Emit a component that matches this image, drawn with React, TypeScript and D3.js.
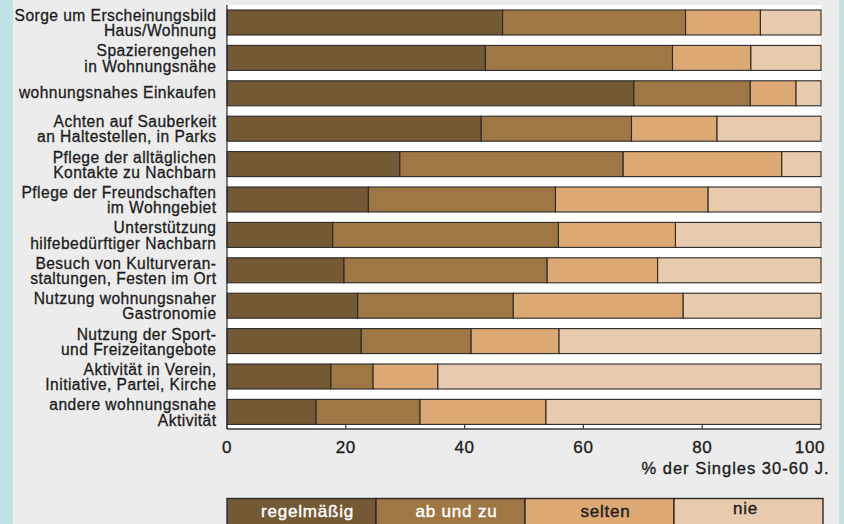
import React from 'react';
import * as d3 from 'd3';

const categories = [
  'Sorge um Erscheinungsbild\nHaus/Wohnung',
  'Spazierengehen\nin Wohnungsnähe',
  'wohnungsnahes Einkaufen',
  'Achten auf Sauberkeit\nan Haltestellen, in Parks',
  'Pflege der alltäglichen\nKontakte zu Nachbarn',
  'Pflege der Freundschaften\nim Wohngebiet',
  'Unterstützung\nhilfebedürftiger Nachbarn',
  'Besuch von Kulturveran-\nstaltungen, Festen im Ort',
  'Nutzung wohnungsnaher\nGastronomie',
  'Nutzung der Sport-\nund Freizeitangebote',
  'Aktivität in Verein,\nInitiative, Partei, Kirche',
  'andere wohnungsnahe\nAktivität',
];
const regelmaessig = [46.4, 43.5, 68.5, 42.8, 29.1, 23.8, 17.8, 19.7, 22.0, 22.6, 17.5, 15.0];
const abUndZu = [30.8, 31.5, 19.6, 25.3, 37.6, 31.5, 38.0, 34.2, 26.2, 18.5, 7.1, 17.5];
const selten = [12.6, 13.2, 7.7, 14.4, 26.7, 25.7, 19.7, 18.6, 28.6, 14.8, 10.9, 21.2];
const nie = [10.2, 11.8, 4.2, 17.5, 6.6, 19.0, 24.5, 27.5, 23.2, 44.1, 64.5, 46.3];
const seriesNames = ['regelmäßig', 'ab und zu', 'selten', 'nie'];
const tickValues = [0, 20, 40, 60, 80, 100];
const axisTitle = '% der Singles 30-60 J.';

const colors = ['#735a35', '#9e7744', '#dca974', '#e8cbae'];
const legendTextColors = ['#ffffff', '#ffffff', '#1e1e1e', '#1e1e1e'];
const FONT = '"Liberation Sans", Arial, Helvetica, sans-serif';

export default function App() {
  const W = 844;
  const H = 524;
  const x = d3.scaleLinear().domain([0, 100]).range([227, 821]);
  const y = d3
    .scaleBand<number>()
    .domain(d3.range(categories.length))
    .range([4.8, 429.6])
    .paddingInner(0.294)
    .paddingOuter(0.147);

  const rows = categories.map((c, i) => ({
    i,
    s0: regelmaessig[i],
    s1: abUndZu[i],
    s2: selten[i],
    s3: nie[i],
  }));
  const stack = d3.stack<any>().keys(['s0', 's1', 's2', 's3']);
  const series = stack(rows);

  const legendX = d3
    .scaleBand<string>()
    .domain(seriesNames)
    .range([227, 823])
    .padding(0);

  const plotTop = 5;
  const plotBottom = 429;
  const ink = '#1c1c1c';

  return (
    <svg
      width={W}
      height={H}
      style={{ position: 'absolute', left: 0, top: 0, display: 'block' }}
      fontFamily={FONT}
    >
      <rect x={0} y={0} width={W} height={H} fill="#ececec" />
      <rect x={0} y={0} width={13} height={H} fill="#bfe3e3" />
      <rect x={839} y={0} width={5} height={H} fill="#bfe3e3" />

      {/* plot area */}
      <rect
        x={x(0)}
        y={plotTop}
        width={x(100) - x(0)}
        height={plotBottom - plotTop}
        fill="#ffffff"
      />

      {/* bars */}
      {series.map((s, si) => (
        <g key={si}>
          {s.map((d, ri) => (
            <rect
              key={ri}
              x={x(d[0])}
              y={y(ri)}
              width={x(d[1]) - x(d[0])}
              height={y.bandwidth()}
              fill={colors[si]}
              stroke="#2a2a2a"
              strokeWidth={1.1}
            />
          ))}
        </g>
      ))}

      {/* axis lines */}
      <line x1={x(0)} x2={x(0)} y1={plotTop} y2={plotBottom} stroke="#2a2a2a" strokeWidth={1.2} />
      <line x1={x(0)} x2={x(100)} y1={plotBottom} y2={plotBottom} stroke="#3a3a3a" strokeWidth={1.4} />
      {tickValues.map((t) => (
        <line
          key={'tk' + t}
          x1={x(t)}
          x2={x(t)}
          y1={plotBottom}
          y2={plotBottom - 4.5}
          stroke="#3a3a3a"
          strokeWidth={1.2}
        />
      ))}
      {tickValues.map((t, i) => {
        const last = i === tickValues.length - 1;
        return (
          <text
            key={'tl' + t}
            x={last ? x(t) + 4 : x(t)}
            y={452.5}
            textAnchor={last ? 'end' : 'middle'}
            fontSize={17}
            letterSpacing={0.6}
            fill={ink}
            stroke={ink}
            strokeWidth={0.35}
          >
            {t}
          </text>
        );
      })}
      <text
        x={829.5}
        y={473.5}
        textAnchor="end"
        fontSize={16.5}
        letterSpacing={1.0}
        fill={ink}
        stroke={ink}
        strokeWidth={0.35}
      >
        {axisTitle}
      </text>

      {/* category labels */}
      {categories.map((c, i) => {
        const lines = c.split('\n');
        const cy = (y(i) as number) + y.bandwidth() / 2;
        return (
          <text
            key={'c' + i}
            x={216.5}
            textAnchor="end"
            fontSize={15.6}
            letterSpacing={0.45}
            fill={ink}
            stroke={ink}
            strokeWidth={0.3}
          >
            {lines.length === 1 ? (
              <tspan x={216.5} y={cy + 5}>
                {lines[0]}
              </tspan>
            ) : (
              lines.map((l, li) => (
                <tspan key={li} x={216.5} y={cy - 1.5 + li * 15.2}>
                  {l}
                </tspan>
              ))
            )}
          </text>
        );
      })}

      {/* legend */}
      {seriesNames.map((n, i) => (
        <g key={'lg' + n}>
          <rect
            x={legendX(n)}
            y={498.5}
            width={legendX.bandwidth()}
            height={30}
            fill={colors[i]}
            stroke="#2a2a2a"
            strokeWidth={1.4}
          />
          <text
            x={(legendX(n) as number) + legendX.bandwidth() / 2 + (i < 3 ? 6 : -3)}
            y={i === 3 ? 513.5 : 516.5}
            textAnchor="middle"
            fontSize={17}
            letterSpacing={0.8}
            fill={legendTextColors[i]}
            stroke={legendTextColors[i]}
            strokeWidth={0.4}
          >
            {n}
          </text>
        </g>
      ))}
    </svg>
  );
}
